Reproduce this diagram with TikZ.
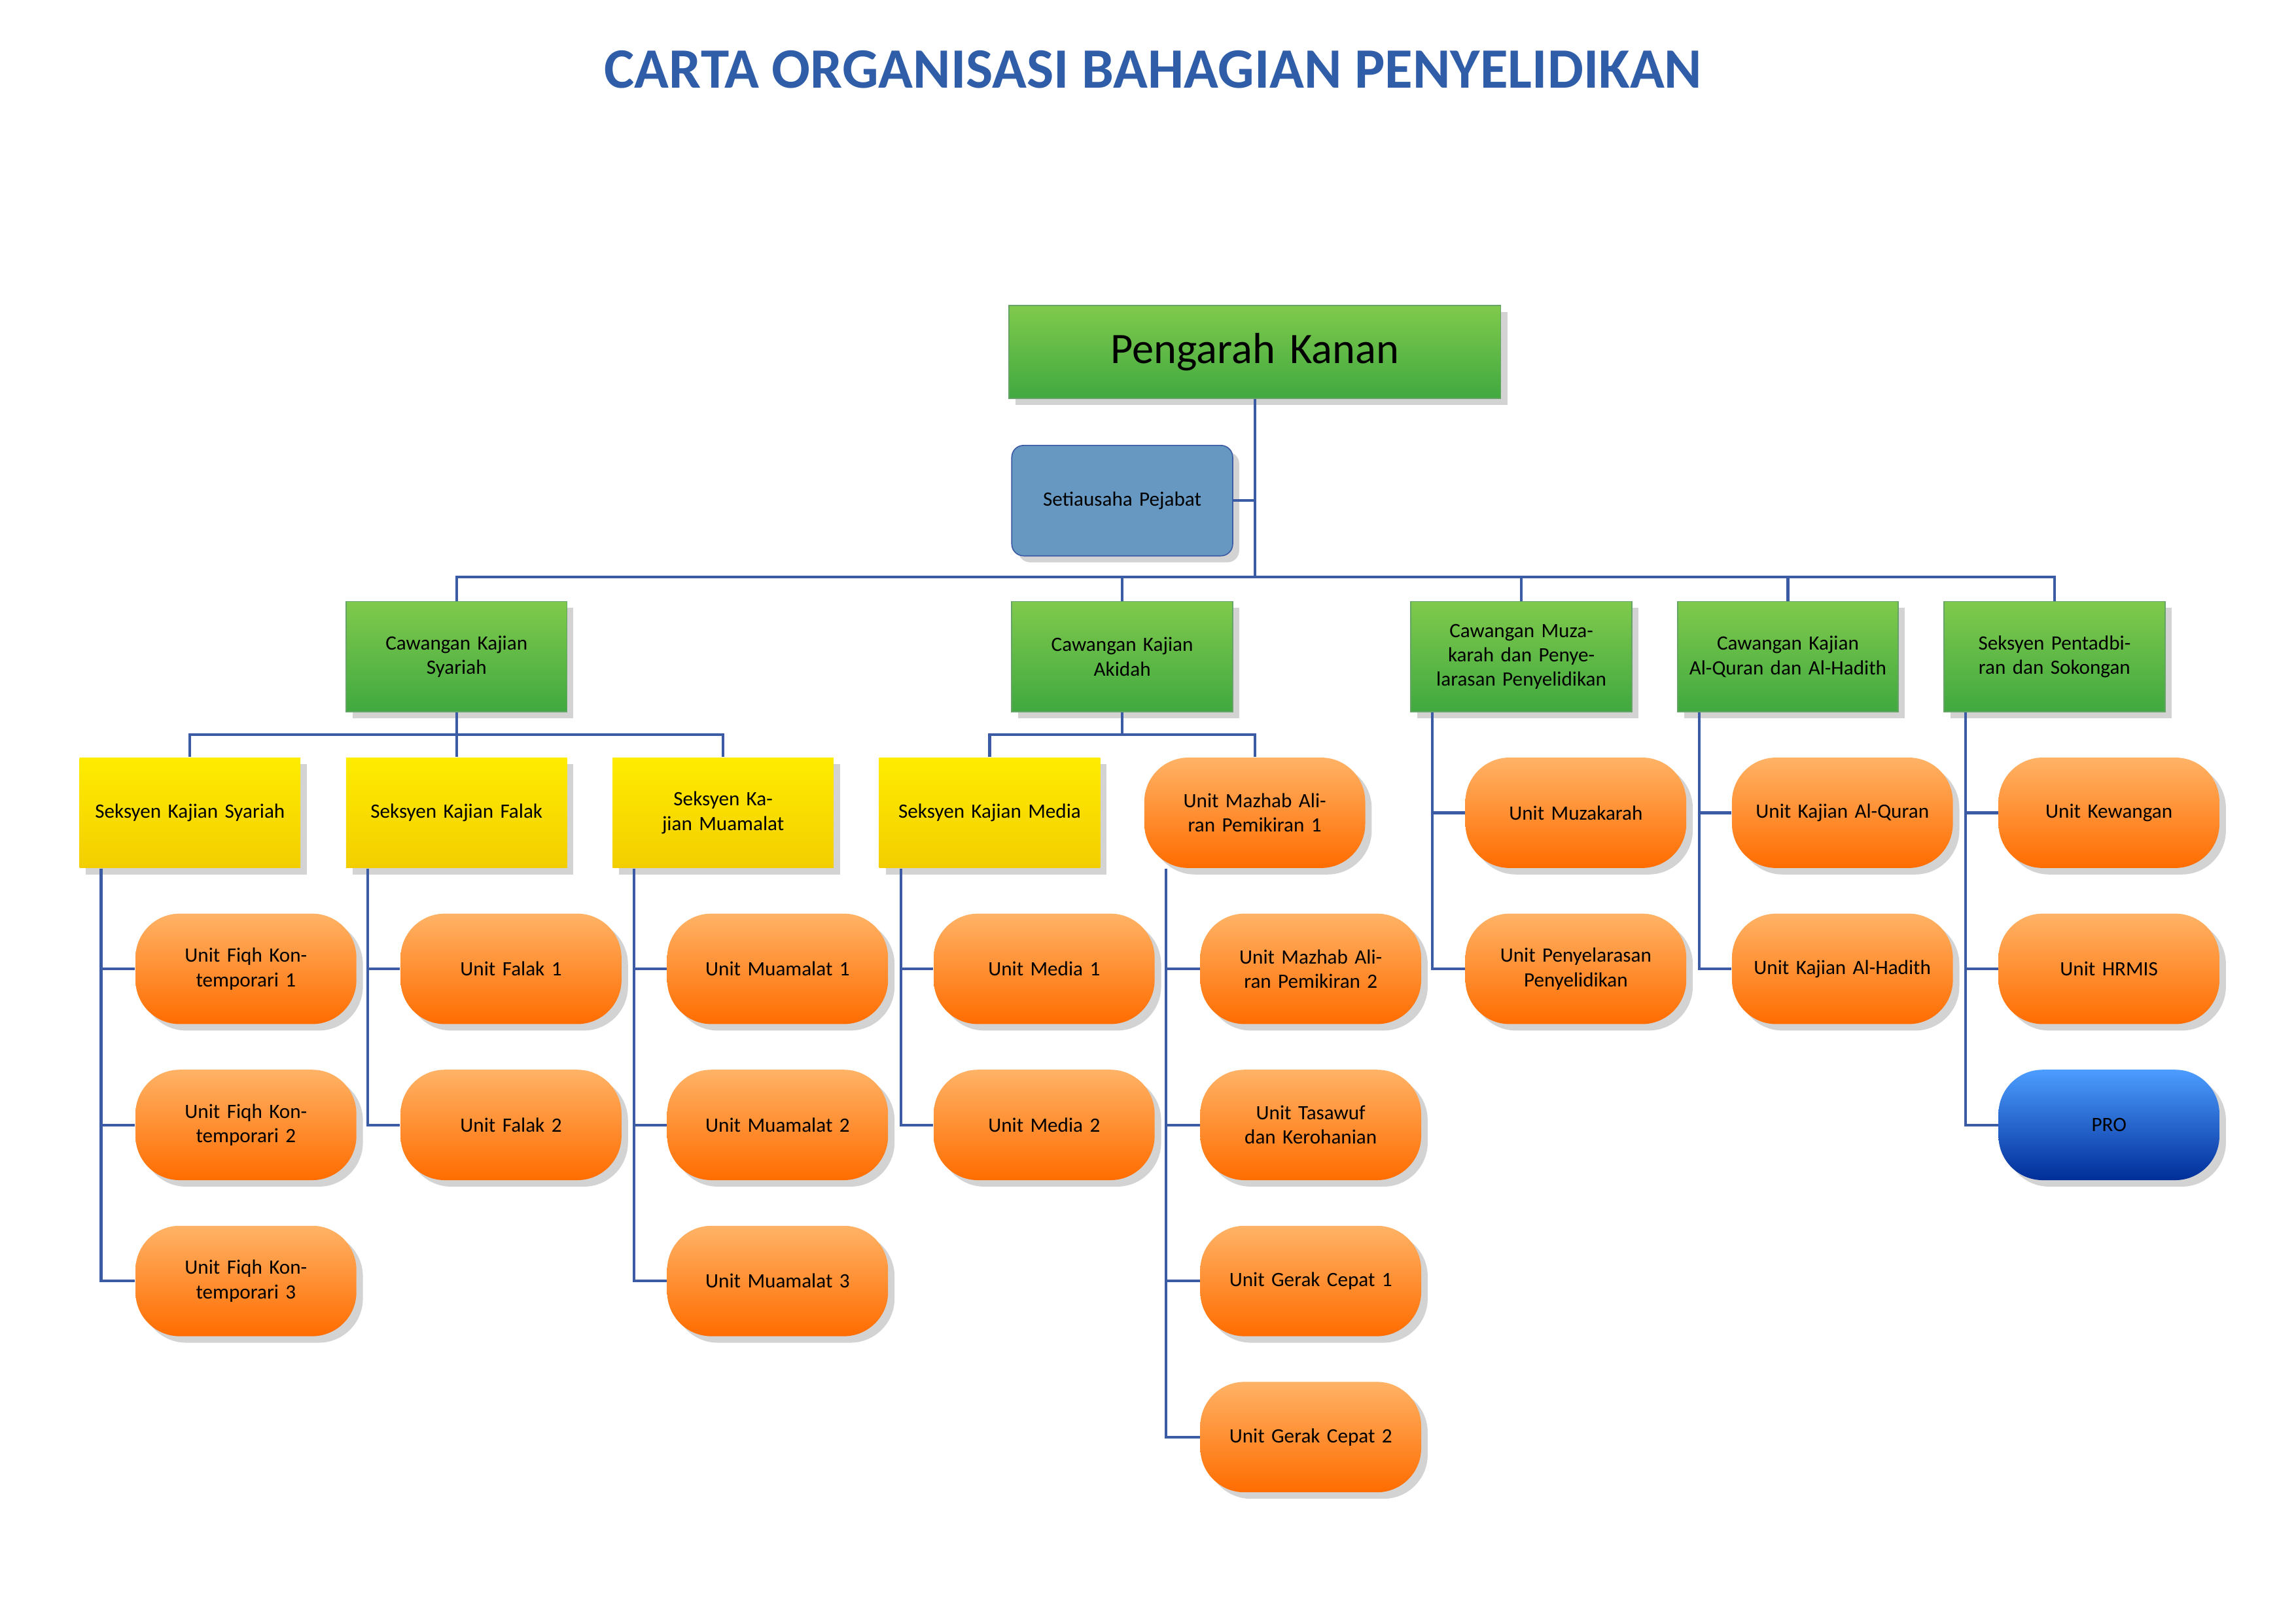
\documentclass[tikz,border=0pt]{standalone}
\usepackage{fontspec}
\setmainfont{Carlito}
\usetikzlibrary{positioning,shadows}
\definecolor{linkblue}{HTML}{3B5BA5}
\definecolor{titleblue}{HTML}{2F5DA8}
\begin{document}
\begin{tikzpicture}[
    x=0.01905cm, y=-0.01905cm,
    box/.style={minimum width=150*0.01905cm, minimum height=75*0.01905cm,
                text width=136*0.01905cm, align=center, inner sep=0pt,
                font=\fontsize{7.5}{9}\selectfont, drop shadow={opacity=0.35}},
    cawang/.style={box, top color=green!45!lime!70!black!70, bottom color=green!55!black!75,
                   draw=green!40!black!60, thin},
    seksyen/.style={box, top color=yellow!85!orange, bottom color=yellow!70!orange!95!black,
                    draw=none},
    unitbox/.style={box, rounded corners=30*0.01905cm, top color=orange!60!white,
                    bottom color=orange!85!red, draw=none},
    link/.style={draw=linkblue, line width=1pt},
]
  \useasboundingbox (0,0) rectangle (1559,1102);

  % Title
  \node[font=\bfseries\fontsize{21}{24}\selectfont, text=titleblue] (title) at (783,47)
    {CARTA ORGANISASI BAHAGIAN PENYELIDIKAN};

  % Top
  \node[cawang, minimum width=334*0.01905cm, minimum height=63*0.01905cm, text width=320*0.01905cm,
        font=\fontsize{16}{19}\selectfont] (kanan) at (852,239) {Pengarah Kanan};
  \node[box, rounded corners=8*0.01905cm, fill=blue!45!cyan!60!black!60, draw=linkblue] (setia) at (762,340)
    {Setiausaha Pejabat};

  % Cawangan
  \node[cawang] (c1) at (310,446) {Cawangan Kajian\\Syariah};
  \node[cawang] (c2) at (762,446) {Cawangan Kajian\\Akidah};
  \node[cawang] (c3) at (1033,446) {Cawangan Muzakarah dan Penyelarasan Penyelidikan};
  \node[cawang] (c4) at (1214,446) {Cawangan Kajian Al-Quran dan Al-Hadith};
  \node[cawang] (c5) at (1395,446) {Seksyen Pentadbiran dan Sokongan};

  \coordinate (bar) at (852,392);
  \draw[link] (kanan.south) -- (bar);
  \draw[link] (setia.east) -- (setia.east -| kanan.south);
  \foreach \c in {c1,c2,c3,c4,c5}
    \draw[link] (bar) -| (\c.north);

  % Seksyen
  \node[seksyen] (s1) at (129,552) {Seksyen Kajian Syariah};
  \node[seksyen] (s2) at (310,552) {Seksyen Kajian Falak};
  \node[seksyen] (s3) at (491,552) {Seksyen Kajian Muamalat};
  \node[seksyen] (s4) at (672,552) {Seksyen Kajian Media};
  \node[unitbox] (s5) at (852,552) {Unit Mazhab Aliran Pemikiran 1};

  \foreach \s in {s1,s2,s3}
    \draw[link] (c1.south) -- ++(0,15) -| (\s.north);
  \foreach \s in {s4,s5}
    \draw[link] (c2.south) -- ++(0,15) -| (\s.north);

  % Units
  \foreach \up/\x/\list in {
      s1/167/{Unit Fiqh Kontemporari 1,Unit Fiqh Kontemporari 2,Unit Fiqh Kontemporari 3},
      s2/347/{Unit Falak 1,Unit Falak 2},
      s3/528/{Unit Muamalat 1,Unit Muamalat 2,Unit Muamalat 3},
      s4/709/{Unit Media 1,Unit Media 2},
      s5/890/{Unit Mazhab Aliran Pemikiran 2,Unit Tasawuf dan Kerohanian,Unit Gerak Cepat 1,Unit Gerak Cepat 2}}
    \foreach \t [count=\i] in \list {
      \node[unitbox] (\up u\i) at (\x,552+106*\i) {\t};
      \draw[link] ([xshift=15*0.01905cm]\up.south west) |- (\up u\i.west);
    }

  \foreach \up/\x/\list in {
      c3/1070/{Unit Muzakarah,Unit Penyelarasan Penyelidikan},
      c4/1251/{Unit Kajian Al-Quran,Unit Kajian Al-Hadith},
      c5/1432/{Unit Kewangan,Unit HRMIS}}
    \foreach \t [count=\i] in \list {
      \node[unitbox] (\up u\i) at (\x,446+106*\i) {\t};
      \draw[link] ([xshift=15*0.01905cm]\up.south west) |- (\up u\i.west);
    }
  \node[unitbox, top color=blue!55!cyan!70!white, bottom color=blue!70!cyan!60!black] (pro) at (1432,764) {PRO};
  \draw[link] ([xshift=15*0.01905cm]c5.south west) |- (pro.west);
\end{tikzpicture}
\end{document}
